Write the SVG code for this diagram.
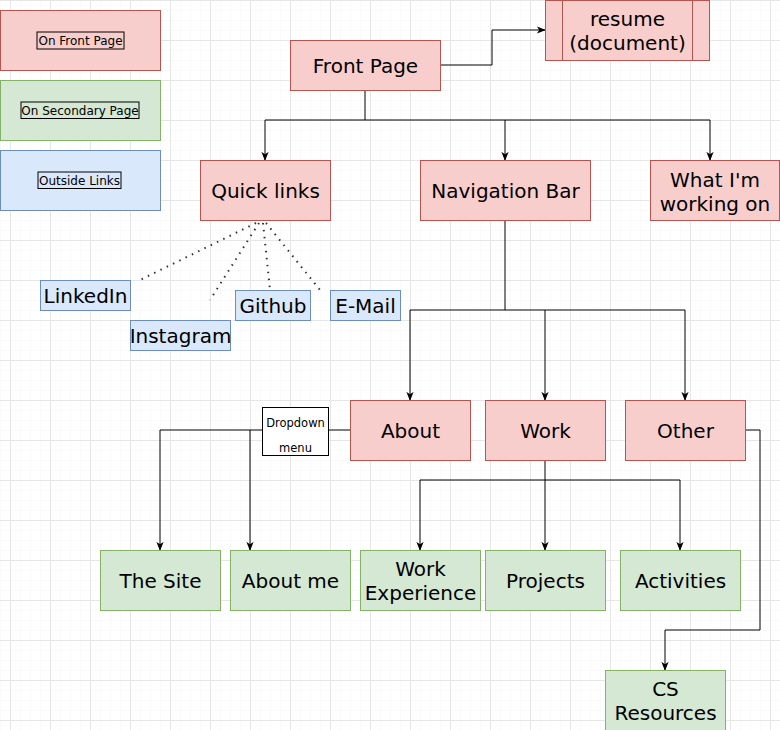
<svg xmlns="http://www.w3.org/2000/svg" width="780" height="730" viewBox="0 0 780 730">
<style>
  text { font-family: "DejaVu Sans", Verdana, sans-serif; fill: #000; text-anchor: middle; }
  .t20 { font-size: 20px; }
  .t12 { font-size: 12px; }
  .t11 { font-size: 11.5px; }
  .red rect, .red line { fill: #f8cecc; stroke: #b85450; stroke-width: 1; }
  .green rect { fill: #d5e8d4; stroke: #82b366; stroke-width: 1; }
  .blue rect { fill: #dae8fc; stroke: #6c8ebf; stroke-width: 1; }
  .edge { fill: none; stroke: #000; stroke-width: 1; }
  .dot { fill: none; stroke: #333; stroke-width: 2; stroke-dasharray: 1.5 5.5; }
</style>
<defs>
  <pattern id="minor" x="0" y="0" width="10" height="10" patternUnits="userSpaceOnUse">
    <path d="M0,0 H10 M0,0 V10" fill="none" stroke="#f5f5f5" stroke-width="1"/>
  </pattern>
  <pattern id="major" x="10" y="0" width="40" height="40" patternUnits="userSpaceOnUse">
    <path d="M0,0.5 H40 M0.5,0 V40" fill="none" stroke="#e6e6e6" stroke-width="1"/>
  </pattern>
  <marker id="arr" viewBox="0 0 10 10" refX="9" refY="5" markerWidth="9" markerHeight="9" markerUnits="userSpaceOnUse" orient="auto">
    <path d="M0,1 L10,5 L0,9 L2.5,5 z" fill="#000"/>
  </marker>
</defs>
<rect width="780" height="730" fill="#fff"/>
<rect width="780" height="730" fill="url(#minor)"/>
<rect width="780" height="730" fill="url(#major)"/>

<g id="connectors">
  <path class="edge" d="M440,65 H492 V30 H545" marker-end="url(#arr)"/>
  <path class="edge" d="M365,90 V120 H265 V160" marker-end="url(#arr)"/>
  <path class="edge" d="M365,120 H505 V160" marker-end="url(#arr)"/>
  <path class="edge" d="M505,120 H710 V160" marker-end="url(#arr)"/>
  <path class="dot" d="M256,223 L140,280"/>
  <path class="dot" d="M259,223 L210,300"/>
  <path class="dot" d="M263,223 L270,290"/>
  <path class="dot" d="M266,223 L320,290"/>
  <path class="edge" d="M505,220 V310 H410 V400" marker-end="url(#arr)"/>
  <path class="edge" d="M505,310 H545 V400" marker-end="url(#arr)"/>
  <path class="edge" d="M545,310 H685 V400" marker-end="url(#arr)"/>
  <path class="edge" d="M350,430 H328"/>
  <path class="edge" d="M262,430 H160 V550" marker-end="url(#arr)"/>
  <path class="edge" d="M250,430 V550" marker-end="url(#arr)"/>
  <path class="edge" d="M545,460 V550" marker-end="url(#arr)"/>
  <path class="edge" d="M545,480 H420 V550" marker-end="url(#arr)"/>
  <path class="edge" d="M545,480 H680 V550" marker-end="url(#arr)"/>
  <path class="edge" d="M745,430 H760 V630 H665 V670" marker-end="url(#arr)"/>
</g>

<g id="legend-front" class="red">
  <rect x="0.5" y="10.5" width="160" height="60"/>
  <rect x="37" y="32" width="87" height="17" style="fill:none;stroke:#000"/>
  <text class="t12" x="80.5" y="45">On Front Page</text>
</g>
<g id="legend-secondary" class="green">
  <rect x="0.5" y="80.5" width="160" height="60"/>
  <rect x="21" y="102" width="118" height="16.5" style="fill:none;stroke:#000"/>
  <text class="t12" x="80" y="114.5">On Secondary Page</text>
</g>
<g id="legend-outside" class="blue">
  <rect x="0.5" y="150.5" width="160" height="60"/>
  <rect x="38" y="172" width="83" height="16.5" style="fill:none;stroke:#000"/>
  <text class="t12" x="79.5" y="184.5">Outside Links</text>
</g>

<g id="front-page" class="red">
  <rect x="290.5" y="40.5" width="150" height="50"/>
  <text class="t20" x="365.5" y="73">Front Page</text>
</g>
<g id="resume" class="red">
  <rect x="545.5" y="0.5" width="164" height="60"/>
  <line x1="562.5" y1="0.5" x2="562.5" y2="60.5"/>
  <line x1="692.5" y1="0.5" x2="692.5" y2="60.5"/>
  <text class="t20" x="627.5" y="26">resume</text>
  <text class="t20" x="627.5" y="50">(document)</text>
</g>
<g id="quick-links" class="red">
  <rect x="200.5" y="160.5" width="130" height="60"/>
  <text class="t20" x="265.5" y="198">Quick links</text>
</g>
<g id="navigation-bar" class="red">
  <rect x="420.5" y="160.5" width="170" height="60"/>
  <text class="t20" x="505.5" y="198">Navigation Bar</text>
</g>
<g id="working-on" class="red">
  <rect x="650.5" y="160.5" width="129" height="60"/>
  <text class="t20" x="715" y="187">What I'm</text>
  <text class="t20" x="715" y="211">working on</text>
</g>

<g id="linkedin" class="blue">
  <rect x="40.5" y="280.5" width="90" height="30"/>
  <text class="t20" x="85.5" y="303">LinkedIn</text>
</g>
<g id="instagram" class="blue">
  <rect x="130.5" y="320.5" width="100" height="30"/>
  <text class="t20" x="180.5" y="343">Instagram</text>
</g>
<g id="github" class="blue">
  <rect x="235.5" y="290.5" width="75" height="30"/>
  <text class="t20" x="273" y="313">Github</text>
</g>
<g id="email" class="blue">
  <rect x="330.5" y="290.5" width="70" height="30"/>
  <text class="t20" x="365.5" y="313">E-Mail</text>
</g>

<g id="dropdown">
  <rect x="262.5" y="407.5" width="66" height="48" fill="#fff" stroke="#000" stroke-width="1"/>
  <text class="t11" x="295.5" y="427">Dropdown</text>
  <text class="t11" x="295.5" y="452">menu</text>
</g>
<g id="about" class="red">
  <rect x="350.5" y="400.5" width="120" height="60"/>
  <text class="t20" x="410.5" y="438">About</text>
</g>
<g id="work" class="red">
  <rect x="485.5" y="400.5" width="120" height="60"/>
  <text class="t20" x="545.5" y="438">Work</text>
</g>
<g id="other" class="red">
  <rect x="625.5" y="400.5" width="120" height="60"/>
  <text class="t20" x="685.5" y="438">Other</text>
</g>

<g id="the-site" class="green">
  <rect x="100.5" y="550.5" width="120" height="60"/>
  <text class="t20" x="160.5" y="588">The Site</text>
</g>
<g id="about-me" class="green">
  <rect x="230.5" y="550.5" width="120" height="60"/>
  <text class="t20" x="290.5" y="588">About me</text>
</g>
<g id="work-experience" class="green">
  <rect x="360.5" y="550.5" width="120" height="60"/>
  <text class="t20" x="420.5" y="576">Work</text>
  <text class="t20" x="420.5" y="600">Experience</text>
</g>
<g id="projects" class="green">
  <rect x="485.5" y="550.5" width="120" height="60"/>
  <text class="t20" x="545.5" y="588">Projects</text>
</g>
<g id="activities" class="green">
  <rect x="620.5" y="550.5" width="120" height="60"/>
  <text class="t20" x="680.5" y="588">Activities</text>
</g>
<g id="cs-resources" class="green">
  <rect x="605.5" y="670.5" width="120" height="60"/>
  <text class="t20" x="665.5" y="696">CS</text>
  <text class="t20" x="665.5" y="720">Resources</text>
</g>
</svg>
